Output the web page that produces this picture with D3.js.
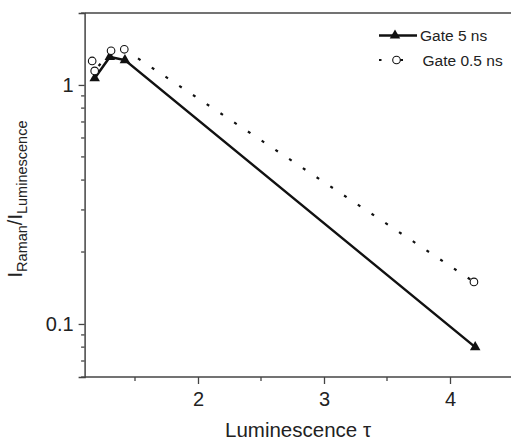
<!DOCTYPE html>
<html>
<head>
<meta charset="utf-8">
<script src="https://cdn.jsdelivr.net/npm/d3@7"></script>
<style>
  body { margin: 0; background: #fff; }
  svg { display: block; font-family: "Liberation Sans", Arial, sans-serif; }
</style>
</head>
<body>
<div id="chart"></div>
<script>
// data
const tau5 = [1.18, 1.30, 1.42, 4.2];
const gate5 = [1.067, 1.31, 1.27, 0.080];
const tau05 = [1.16, 1.18, 1.31, 1.415, 4.19];
const gate05 = [1.26, 1.145, 1.39, 1.41, 0.150];
const seriesNames = ["Gate 5 ns", "Gate 0.5 ns"];

const xTicks = [2, 3, 4];
const xMinor = [1.5, 2.5, 3.5, 4.5];
const yTicks = [0.1, 1];
const yTickLabels = ["0.1", "1"];
const yMinor = [0.06, 0.07, 0.08, 0.09, 0.2, 0.3, 0.4, 0.5, 0.6, 0.7, 0.8, 0.9, 2];

const W = 511, H = 441;
const svg = d3.select("#chart").append("svg")
    .attr("width", W)
    .attr("height", H);

const x = d3.scaleLinear().domain([1.1, 4.5]).range([84.6, 513]);
const y = d3.scaleLog().domain([0.06, 2]).range([377, 13]);

const axisColor = "#444";

// frame (top line, right side is cropped)
svg.append("line")
    .attr("x1", x(1.1)).attr("x2", W)
    .attr("y1", y(2)).attr("y2", y(2))
    .attr("stroke", axisColor).attr("stroke-width", 1.5);

// x axis
const xAxis = svg.append("g")
    .attr("transform", `translate(0,${y(0.06)})`)
    .call(d3.axisBottom(x).tickValues(xTicks).tickFormat(d3.format("d")).tickSize(7).tickPadding(8));
xAxis.append("g").selectAll("line")
    .data(xMinor)
    .join("line")
    .attr("x1", d => x(d)).attr("x2", d => x(d))
    .attr("y1", 0).attr("y2", 4);

// y axis
const yAxis = svg.append("g")
    .attr("transform", `translate(${x(1.1)},0)`)
    .call(d3.axisLeft(y).tickValues(yTicks).tickFormat((d, i) => yTickLabels[i]).tickSize(6).tickPadding(5));
yAxis.append("g").selectAll("line")
    .data(yMinor)
    .join("line")
    .attr("y1", d => y(d)).attr("y2", d => y(d))
    .attr("x1", 0).attr("x2", -3.5);

[xAxis, yAxis].forEach(a => {
    a.select(".domain").attr("stroke", axisColor).attr("stroke-width", 1.5);
    a.selectAll("line").attr("stroke", axisColor).attr("stroke-width", 1.3);
    a.selectAll("text").attr("fill", "#222").attr("font-size", 20)
        .attr("font-family", "Liberation Sans, Arial, sans-serif");
});
xAxis.select(".domain").attr("d", `M${x(1.1)},0H${W}`);

// lines
const line = d3.line().x(d => x(d[0])).y(d => y(d[1]));
const pts5 = tau5.map((t, i) => [t, gate5[i]]);
const pts05 = tau05.map((t, i) => [t, gate05[i]]);

svg.append("path")
    .datum(pts05)
    .attr("d", line)
    .attr("fill", "none")
    .attr("stroke", "#111")
    .attr("stroke-width", 2.2)
    .attr("stroke-dasharray", "3,13.5");

svg.append("path")
    .datum(pts5)
    .attr("d", line)
    .attr("fill", "none")
    .attr("stroke", "#111")
    .attr("stroke-width", 2.5);

const tri = d3.symbol().type(d3.symbolTriangle).size(48);

svg.append("g").selectAll("path")
    .data(pts5)
    .join("path")
    .attr("transform", d => `translate(${x(d[0])},${y(d[1])})`)
    .attr("d", tri)
    .attr("fill", "#111");

svg.append("g").selectAll("circle")
    .data(pts05)
    .join("circle")
    .attr("cx", d => x(d[0]))
    .attr("cy", d => y(d[1]))
    .attr("r", 3.8)
    .attr("fill", "#fff")
    .attr("stroke", "#111")
    .attr("stroke-width", 1.1);

// legend
const lg = svg.append("g").attr("font-size", 15.5).attr("fill", "#222");
lg.append("line").attr("x1", 379).attr("x2", 417).attr("y1", 35.5).attr("y2", 35.5)
    .attr("stroke", "#111").attr("stroke-width", 2.5);
lg.append("path").attr("transform", "translate(395,35.5)").attr("d", tri).attr("fill", "#111");
lg.append("text").attr("x", 420).attr("y", 41).text(seriesNames[0]);

lg.append("line").attr("x1", 379).attr("x2", 403).attr("y1", 60).attr("y2", 60)
    .attr("stroke", "#111").attr("stroke-width", 2).attr("stroke-dasharray", "2.5,12.5,9");
lg.append("circle").attr("cx", 396.5).attr("cy", 60).attr("r", 3.8)
    .attr("fill", "#fff").attr("stroke", "#111").attr("stroke-width", 1.1);
lg.append("text").attr("x", 422.5).attr("y", 65.5).text(seriesNames[1]);

// axis titles
svg.append("text")
    .attr("x", 298).attr("y", 437)
    .attr("text-anchor", "middle")
    .attr("font-size", 20.5)
    .attr("fill", "#222")
    .text("Luminescence τ");

const yt = svg.append("text")
    .attr("transform", "translate(22,199) rotate(-90)")
    .attr("text-anchor", "middle")
    .attr("font-size", 20)
    .attr("fill", "#222");
yt.append("tspan").text("I");
yt.append("tspan").attr("font-size", 14.5).attr("dy", 4.5).text("Raman");
yt.append("tspan").attr("dy", -4.5).text("/I");
yt.append("tspan").attr("font-size", 14.5).attr("dy", 4.5).text("Luminescence");
</script>
</body>
</html>
